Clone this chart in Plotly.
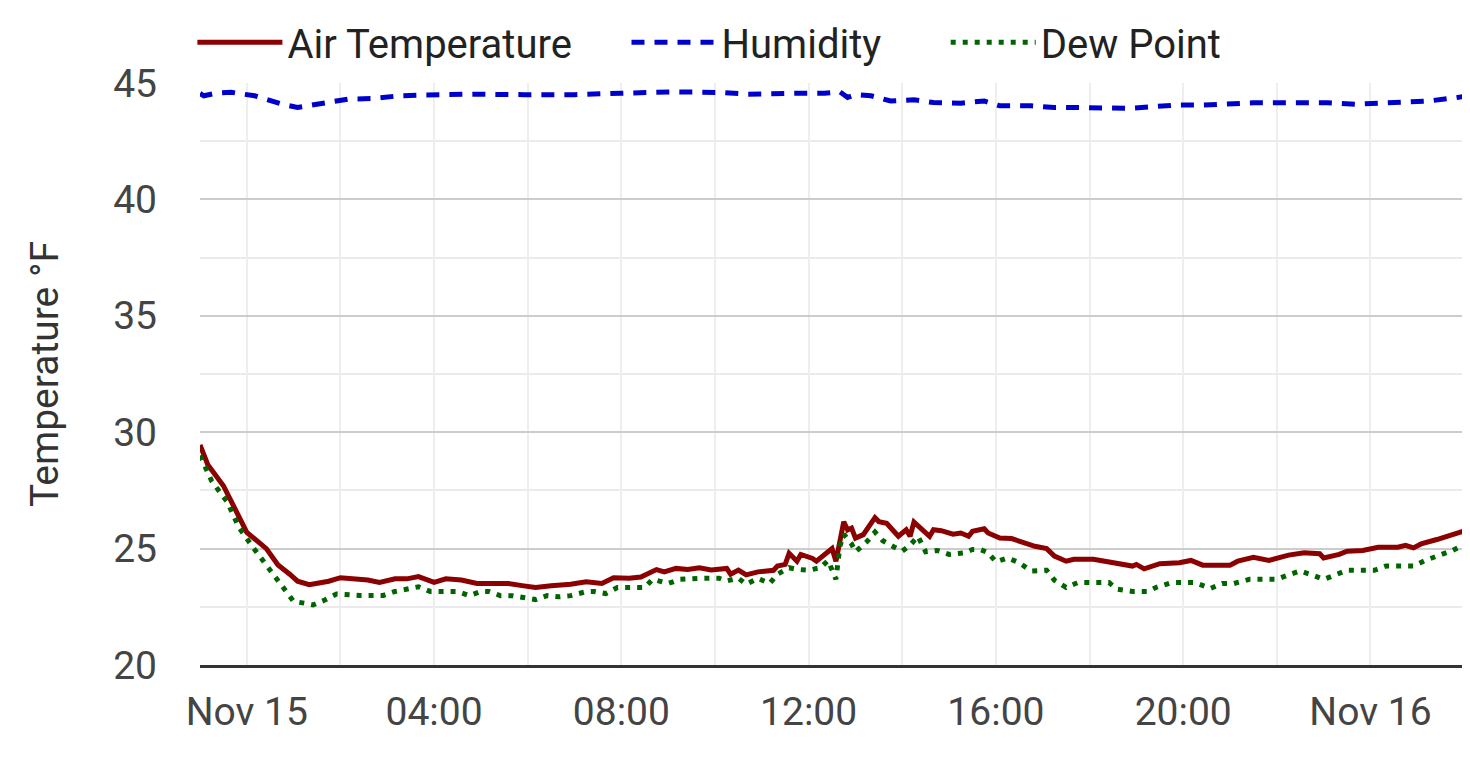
import plotly.graph_objects as go

# readings (time, value)
air_time = ["2023-11-14 23:00", "2023-11-14 23:10", "2023-11-14 23:30", "2023-11-14 23:50",
            "2023-11-15 00:00", "2023-11-15 00:25", "2023-11-15 00:40", "2023-11-15 00:55",
            "2023-11-15 01:05", "2023-11-15 01:20", "2023-11-15 01:45", "2023-11-15 02:00",
            "2023-11-15 02:35", "2023-11-15 02:50", "2023-11-15 03:10", "2023-11-15 03:25",
            "2023-11-15 03:40", "2023-11-15 04:00", "2023-11-15 04:15", "2023-11-15 04:35",
            "2023-11-15 04:55", "2023-11-15 05:15", "2023-11-15 05:35", "2023-11-15 05:55",
            "2023-11-15 06:10", "2023-11-15 06:30", "2023-11-15 06:55", "2023-11-15 07:15",
            "2023-11-15 07:35", "2023-11-15 07:50", "2023-11-15 08:10", "2023-11-15 08:25",
            "2023-11-15 08:45", "2023-11-15 08:55", "2023-11-15 09:10", "2023-11-15 09:25",
            "2023-11-15 09:40", "2023-11-15 09:55", "2023-11-15 10:15", "2023-11-15 10:20",
            "2023-11-15 10:30", "2023-11-15 10:40", "2023-11-15 10:55", "2023-11-15 11:15",
            "2023-11-15 11:20", "2023-11-15 11:30", "2023-11-15 11:35", "2023-11-15 11:45",
            "2023-11-15 11:50", "2023-11-15 12:05", "2023-11-15 12:10", "2023-11-15 12:30",
            "2023-11-15 12:35", "2023-11-15 12:45", "2023-11-15 12:50", "2023-11-15 12:55",
            "2023-11-15 13:00", "2023-11-15 13:10", "2023-11-15 13:25", "2023-11-15 13:30",
            "2023-11-15 13:40", "2023-11-15 13:55", "2023-11-15 14:05", "2023-11-15 14:10",
            "2023-11-15 14:15", "2023-11-15 14:35", "2023-11-15 14:40", "2023-11-15 14:50",
            "2023-11-15 15:05", "2023-11-15 15:15", "2023-11-15 15:25", "2023-11-15 15:30",
            "2023-11-15 15:45", "2023-11-15 15:50", "2023-11-15 16:05", "2023-11-15 16:20",
            "2023-11-15 16:35", "2023-11-15 16:50", "2023-11-15 17:05", "2023-11-15 17:15",
            "2023-11-15 17:30", "2023-11-15 17:40", "2023-11-15 18:05", "2023-11-15 18:20",
            "2023-11-15 18:35", "2023-11-15 18:55", "2023-11-15 19:00", "2023-11-15 19:10",
            "2023-11-15 19:30", "2023-11-15 19:55", "2023-11-15 20:10", "2023-11-15 20:25",
            "2023-11-15 21:00", "2023-11-15 21:10", "2023-11-15 21:30", "2023-11-15 21:50",
            "2023-11-15 22:15", "2023-11-15 22:35", "2023-11-15 22:55", "2023-11-15 23:00",
            "2023-11-15 23:20", "2023-11-15 23:30", "2023-11-15 23:50", "2023-11-16 00:10",
            "2023-11-16 00:35", "2023-11-16 00:45", "2023-11-16 00:55", "2023-11-16 01:05",
            "2023-11-16 01:25", "2023-11-16 01:45", "2023-11-16 02:05"]
air_temp = [29.45, 28.6, 27.7, 26.3,
            25.7, 25.0, 24.3, 23.9,
            23.6, 23.45, 23.6, 23.75,
            23.65, 23.55, 23.7, 23.7,
            23.8, 23.55, 23.7, 23.65,
            23.5, 23.5, 23.5, 23.4,
            23.33, 23.4, 23.47, 23.58,
            23.5, 23.75, 23.73, 23.78,
            24.1, 24.0, 24.15, 24.1,
            24.18, 24.08, 24.15, 23.9,
            24.08, 23.87, 24.0, 24.07,
            24.25, 24.32, 24.8, 24.46,
            24.75, 24.58, 24.46, 25.0,
            24.46, 26.15, 25.8, 25.88,
            25.45, 25.6, 26.33, 26.16,
            26.09, 25.53, 25.81, 25.53,
            26.14, 25.53, 25.81, 25.77,
            25.62, 25.67, 25.53, 25.74,
            25.85, 25.67, 25.45, 25.43,
            25.24, 25.1, 25.0, 24.68,
            24.46, 24.54, 24.54, 24.46,
            24.39, 24.25, 24.32, 24.13,
            24.35, 24.39, 24.49, 24.29,
            24.29, 24.46, 24.63, 24.49,
            24.72, 24.82, 24.78, 24.6,
            24.75, 24.89, 24.92, 25.06,
            25.06, 25.14, 25.03, 25.2,
            25.39, 25.6, 25.81]

hum_time = ["2023-11-14 23:00", "2023-11-14 23:05", "2023-11-14 23:20", "2023-11-14 23:40",
            "2023-11-15 00:10", "2023-11-15 00:45", "2023-11-15 01:05", "2023-11-15 01:40",
            "2023-11-15 02:10", "2023-11-15 02:40", "2023-11-15 03:15", "2023-11-15 03:45",
            "2023-11-15 04:50", "2023-11-15 05:55", "2023-11-15 07:00", "2023-11-15 08:00",
            "2023-11-15 09:10", "2023-11-15 10:10", "2023-11-15 10:40", "2023-11-15 11:50",
            "2023-11-15 12:20", "2023-11-15 12:40", "2023-11-15 12:50", "2023-11-15 13:00",
            "2023-11-15 13:20", "2023-11-15 13:45", "2023-11-15 14:15", "2023-11-15 14:40",
            "2023-11-15 15:15", "2023-11-15 15:45", "2023-11-15 16:05", "2023-11-15 16:45",
            "2023-11-15 17:15", "2023-11-15 17:45", "2023-11-15 18:20", "2023-11-15 18:50",
            "2023-11-15 19:20", "2023-11-15 19:50", "2023-11-15 20:25", "2023-11-15 21:00",
            "2023-11-15 21:30", "2023-11-15 22:00", "2023-11-15 22:35", "2023-11-15 23:05",
            "2023-11-15 23:40", "2023-11-16 00:10", "2023-11-16 00:40", "2023-11-16 01:15",
            "2023-11-16 01:50", "2023-11-16 02:05"]
humidity = [44.55, 44.45, 44.56, 44.6,
            44.45, 44.09, 43.95, 44.16,
            44.31, 44.33, 44.45, 44.48,
            44.52, 44.5, 44.5, 44.56,
            44.62, 44.59, 44.52, 44.56,
            44.56, 44.62, 44.38, 44.5,
            44.45, 44.23, 44.28, 44.16,
            44.13, 44.23, 44.02, 44.02,
            43.95, 43.95, 43.95, 43.91,
            43.98, 44.05, 44.05, 44.12,
            44.15, 44.15, 44.15, 44.15,
            44.09, 44.13, 44.16, 44.23,
            44.37, 44.45]

dew_time = ["2023-11-14 23:00", "2023-11-14 23:15", "2023-11-14 23:35", "2023-11-14 23:50",
            "2023-11-15 00:10", "2023-11-15 00:30", "2023-11-15 00:50", "2023-11-15 01:00",
            "2023-11-15 01:15", "2023-11-15 01:25", "2023-11-15 01:40", "2023-11-15 01:55",
            "2023-11-15 02:25", "2023-11-15 02:35", "2023-11-15 02:55", "2023-11-15 03:10",
            "2023-11-15 03:25", "2023-11-15 03:40", "2023-11-15 03:55", "2023-11-15 04:30",
            "2023-11-15 04:45", "2023-11-15 05:00", "2023-11-15 05:10", "2023-11-15 05:25",
            "2023-11-15 05:40", "2023-11-15 05:55", "2023-11-15 06:10", "2023-11-15 06:25",
            "2023-11-15 06:40", "2023-11-15 06:55", "2023-11-15 07:15", "2023-11-15 07:25",
            "2023-11-15 07:40", "2023-11-15 07:55", "2023-11-15 08:15", "2023-11-15 08:30",
            "2023-11-15 08:40", "2023-11-15 09:00", "2023-11-15 09:15", "2023-11-15 09:30",
            "2023-11-15 09:45", "2023-11-15 10:05", "2023-11-15 10:15", "2023-11-15 10:30",
            "2023-11-15 10:40", "2023-11-15 10:55", "2023-11-15 11:10", "2023-11-15 11:20",
            "2023-11-15 11:35", "2023-11-15 11:45", "2023-11-15 12:00", "2023-11-15 12:15",
            "2023-11-15 12:25", "2023-11-15 12:35", "2023-11-15 12:40", "2023-11-15 12:45",
            "2023-11-15 12:55", "2023-11-15 13:00", "2023-11-15 13:15", "2023-11-15 13:25",
            "2023-11-15 13:35", "2023-11-15 13:50", "2023-11-15 14:00", "2023-11-15 14:10",
            "2023-11-15 14:20", "2023-11-15 14:30", "2023-11-15 14:45", "2023-11-15 15:00",
            "2023-11-15 15:20", "2023-11-15 15:30", "2023-11-15 15:40", "2023-11-15 15:50",
            "2023-11-15 16:00", "2023-11-15 16:15", "2023-11-15 16:30", "2023-11-15 16:45",
            "2023-11-15 17:05", "2023-11-15 17:15", "2023-11-15 17:30", "2023-11-15 17:45",
            "2023-11-15 18:05", "2023-11-15 18:25", "2023-11-15 18:35", "2023-11-15 18:55",
            "2023-11-15 19:15", "2023-11-15 19:25", "2023-11-15 19:45", "2023-11-15 20:00",
            "2023-11-15 20:15", "2023-11-15 20:35", "2023-11-15 20:50", "2023-11-15 21:05",
            "2023-11-15 21:25", "2023-11-15 21:40", "2023-11-15 22:00", "2023-11-15 22:15",
            "2023-11-15 22:30", "2023-11-15 22:45", "2023-11-15 23:00", "2023-11-15 23:15",
            "2023-11-15 23:30", "2023-11-15 23:50", "2023-11-16 00:05", "2023-11-16 00:20",
            "2023-11-16 00:40", "2023-11-16 00:55", "2023-11-16 01:10", "2023-11-16 01:30",
            "2023-11-16 01:45", "2023-11-16 02:00", "2023-11-16 02:05"]
dew_point = [29.0, 27.9, 27.0, 25.9,
             24.96, 24.07, 23.12, 22.73,
             22.65, 22.58, 22.79, 23.05,
             22.99, 23.0, 22.99, 23.16,
             23.26, 23.36, 23.16, 23.16,
             22.98, 23.16, 23.16, 22.98,
             22.98, 22.9, 22.81, 22.98,
             22.93, 22.98, 23.15, 23.16,
             23.07, 23.33, 23.33, 23.33,
             23.68, 23.5, 23.68, 23.73,
             23.73, 23.73, 23.61, 23.73,
             23.47, 23.72, 23.5, 23.9,
             24.18, 24.11, 24.07, 24.18,
             24.49, 23.68, 25.1, 25.62,
             25.2, 24.86, 25.31, 25.71,
             25.34, 25.06, 24.89, 25.14,
             25.53, 24.86, 24.92, 24.75,
             24.82, 24.96, 24.96, 24.82,
             24.43, 24.6, 24.39, 24.04,
             24.07, 23.64, 23.33, 23.54,
             23.54, 23.54, 23.26, 23.16,
             23.16, 23.33, 23.54, 23.54,
             23.54, 23.29, 23.5, 23.5,
             23.68, 23.68, 23.68, 23.87,
             24.04, 23.87, 23.68, 23.87,
             24.07, 24.07, 24.07, 24.25,
             24.25, 24.25, 24.49, 24.72,
             24.92, 25.17, 25.3]

tick_times = ["2023-11-15 00:00", "2023-11-15 04:00", "2023-11-15 08:00", "2023-11-15 12:00",
              "2023-11-15 16:00", "2023-11-15 20:00", "2023-11-16 00:00"]
tick_labels = ["Nov 15", "04:00", "08:00", "12:00", "16:00", "20:00", "Nov 16"]

pad = "\u00a0" * 5  # extra room between legend entries

fig = go.Figure()
fig.add_trace(go.Scatter(x=air_time, y=air_temp, mode="lines", name="Air Temperature" + pad,
                         line=dict(color="#8b0000", width=5)))
fig.add_trace(go.Scatter(x=hum_time, y=humidity, mode="lines", name="Humidity" + pad + "\u00a0",
                         line=dict(color="#0000cd", width=5, dash="13px,10px")))
fig.add_trace(go.Scatter(x=dew_time, y=dew_point, mode="lines", name="Dew Point",
                         line=dict(color="#006400", width=5, dash="5px,7px")))

# page body adds an 8px offset, so the figure is sized to fit the window
fig.update_layout(
    width=1462, height=755,
    margin=dict(l=192, r=2, t=69, b=98),
    paper_bgcolor="white", plot_bgcolor="white",
    font=dict(family="Roboto", size=39, color="#444"),
    legend=dict(orientation="h", x=-0.006, xanchor="left", y=1.07, yanchor="middle",
                itemwidth=85, font=dict(size=40, color="#222"),
                bgcolor="rgba(0,0,0,0)"),
    showlegend=True,
)
fig.update_xaxes(
    type="date", range=["2023-11-14 23:00", "2023-11-16 02:05"],
    tickvals=tick_times, ticktext=tick_labels,
    showgrid=True, gridcolor="#eeeeee", gridwidth=2,
    minor=dict(dtick=2 * 3600 * 1000, tick0="2023-11-15", showgrid=True,
               gridcolor="#eeeeee", gridwidth=2),
    showline=True, linecolor="#333", linewidth=3,
    ticks="", ticklabelstandoff=10, zeroline=False, automargin=False,
)
fig.update_yaxes(
    range=[20, 45], dtick=5, tick0=20,
    showgrid=True, gridcolor="#cccccc", gridwidth=2,
    minor=dict(dtick=2.5, showgrid=True, gridcolor="#ebebeb", gridwidth=2),
    ticks="", ticklabelstandoff=42, zeroline=False, automargin=False,
    title=dict(text="Temperature °F", standoff=42, font=dict(size=39, color="#333")),
)

fig.write_html("out.html")
